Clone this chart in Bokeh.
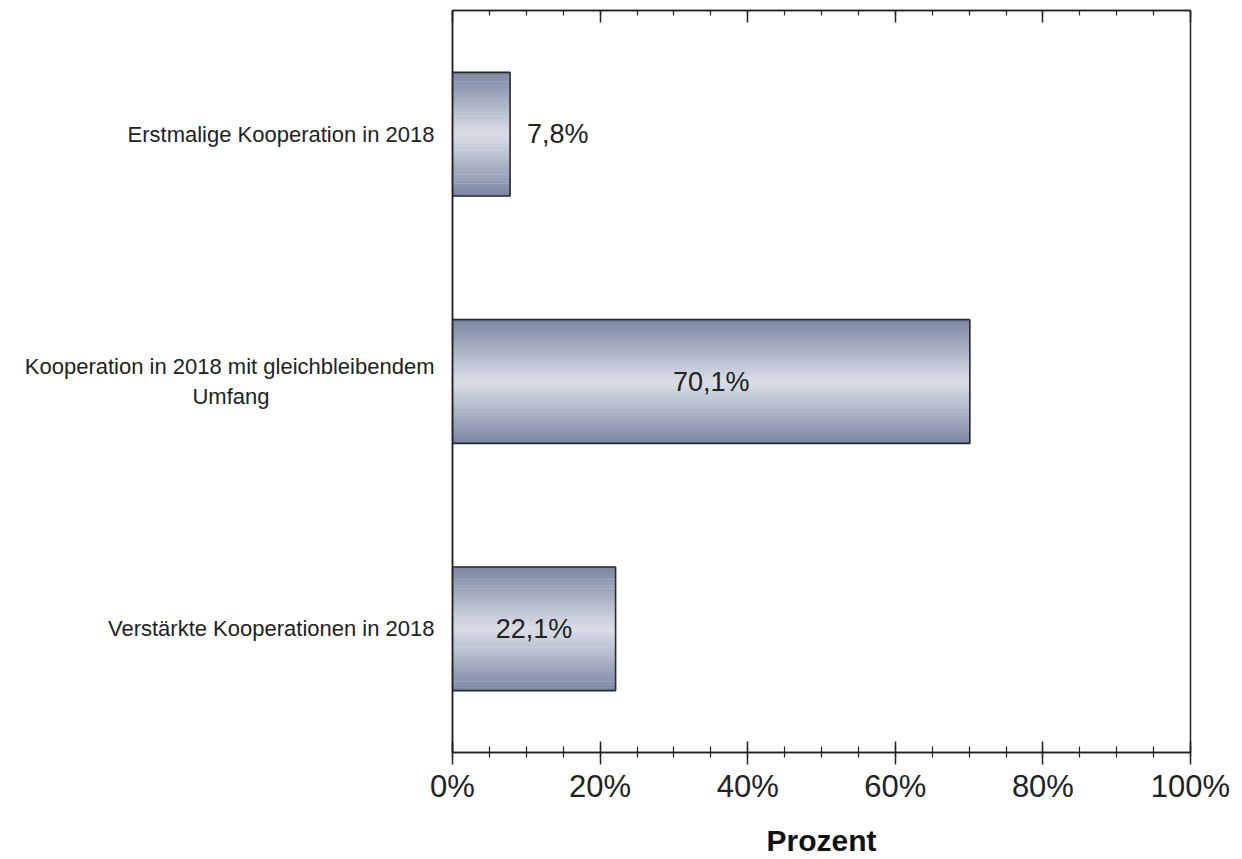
from bokeh.plotting import figure
from bokeh.models import (FactorRange, Range1d, LinearAxis, SingleIntervalTicker,
                          PrintfTickFormatter, CustomJSTickFormatter, ColumnDataSource)
from bokeh.transform import dodge
from bokeh.core.properties import value
from bokeh.embed import file_html
from bokeh.resources import INLINE

# second label is wrapped; trailing no-break spaces centre its short second line
categories = ["Erstmalige Kooperation in 2018",
              "Kooperation in 2018 mit gleichbleibendem\nUmfang" + "\u00a0" * 27,
              "Verstärkte Kooperationen in 2018"]
values = [7.8, 70.1, 22.1]
x_label = "Prozent"

FONT = "Liberation Sans"
BAR_H = 0.5

p = figure(width=1236, height=859, output_backend="svg", toolbar_location=None,
           y_range=FactorRange(*categories[::-1], range_padding=0),
           x_range=Range1d(0, 100),
           x_axis_location=None, min_border_left=452, min_border_right=46,
           min_border_top=10, min_border_bottom=107)
p.grid.visible = False
p.outline_line_color = "#222222"
p.outline_line_width = 1.5
p.background_fill_color = "white"
p.border_fill_color = "white"

src = ColumnDataSource(dict(cat=categories, val=values,
                            lab=[f"{v:.1f}".replace(".", ",") + "%" for v in values]))

# gradient bars built from thin slices
N = 40
dark = (124, 134, 164)
light = (218, 223, 231)
for i in range(N):
    off = -BAR_H / 2 + (i + 0.5) * BAR_H / N
    t = abs(off) / (BAR_H / 2)
    c = tuple(int(round(light[k] + (dark[k] - light[k]) * t)) for k in range(3))
    col = "#%02x%02x%02x" % c
    p.hbar(y=dodge("cat", off, range=p.y_range), right="val", left=0,
           height=BAR_H / N * 1.15, source=src, fill_color=col, line_color=None)
p.hbar(y="cat", right="val", left=0, height=BAR_H, source=src,
       fill_color=None, line_color="#2a2a2a", line_width=1.6)

# value labels
inside = dict(cat=[], x=[], lab=[])
outside = dict(cat=[], x=[], lab=[])
for c, v, l in zip(categories, values, src.data["lab"]):
    if v >= 15:
        inside["cat"].append(c); inside["x"].append(v / 2); inside["lab"].append(l)
    else:
        outside["cat"].append(c); outside["x"].append(v); outside["lab"].append(l)
p.text(x="x", y="cat", text="lab", source=ColumnDataSource(inside),
       text_align="center", text_baseline="middle", text_font=value(FONT),
       text_font_size="27px", text_color="#222222")
p.text(x="x", y="cat", text="lab", source=ColumnDataSource(outside),
       text_align="left", text_baseline="middle", x_offset=17, text_font=value(FONT),
       text_font_size="27px", text_color="#222222")

ticker = SingleIntervalTicker(interval=20, num_minor_ticks=4)

bottom = LinearAxis(ticker=ticker, formatter=PrintfTickFormatter(format="%d%%"),
                    axis_label=x_label)
bottom.major_tick_in = 11
bottom.major_tick_out = 12
bottom.minor_tick_in = 6
bottom.minor_tick_out = 5
bottom.major_tick_line_color = "#222222"
bottom.minor_tick_line_color = "#222222"
bottom.axis_line_color = "#222222"
bottom.major_tick_line_width = 1.5
bottom.minor_tick_line_width = 1.2
bottom.axis_line_width = 1.5
bottom.major_label_text_font = FONT
bottom.major_label_text_font_size = "31px"
bottom.major_label_text_color = "#222222"
bottom.major_label_standoff = 4
bottom.axis_label_text_font = FONT
bottom.axis_label_text_font_size = "30px"
bottom.axis_label_text_font_style = "bold"
bottom.axis_label_text_color = "#111111"
bottom.axis_label_standoff = 17
p.add_layout(bottom, "below")

top = LinearAxis(ticker=ticker, formatter=CustomJSTickFormatter(code="return ''"))
top.major_tick_in = 12
top.major_tick_out = 0
top.minor_tick_in = 5
top.minor_tick_out = 0
top.major_label_standoff = 0
top.major_tick_line_color = "#222222"
top.minor_tick_line_color = "#222222"
top.axis_line_color = "#222222"
top.major_tick_line_width = 1.5
top.minor_tick_line_width = 1.2
top.axis_line_width = 1.5
p.add_layout(top, "above")

yax = p.yaxis[0]
yax.major_tick_line_color = None
yax.minor_tick_line_color = None
yax.axis_line_color = "#222222"
yax.axis_line_width = 1.5
yax.major_label_text_font = FONT
yax.major_label_text_font_size = "22px"
yax.major_label_text_color = "#222222"
yax.major_label_standoff = 12

open("out.html", "w").write(file_html(p, INLINE))
